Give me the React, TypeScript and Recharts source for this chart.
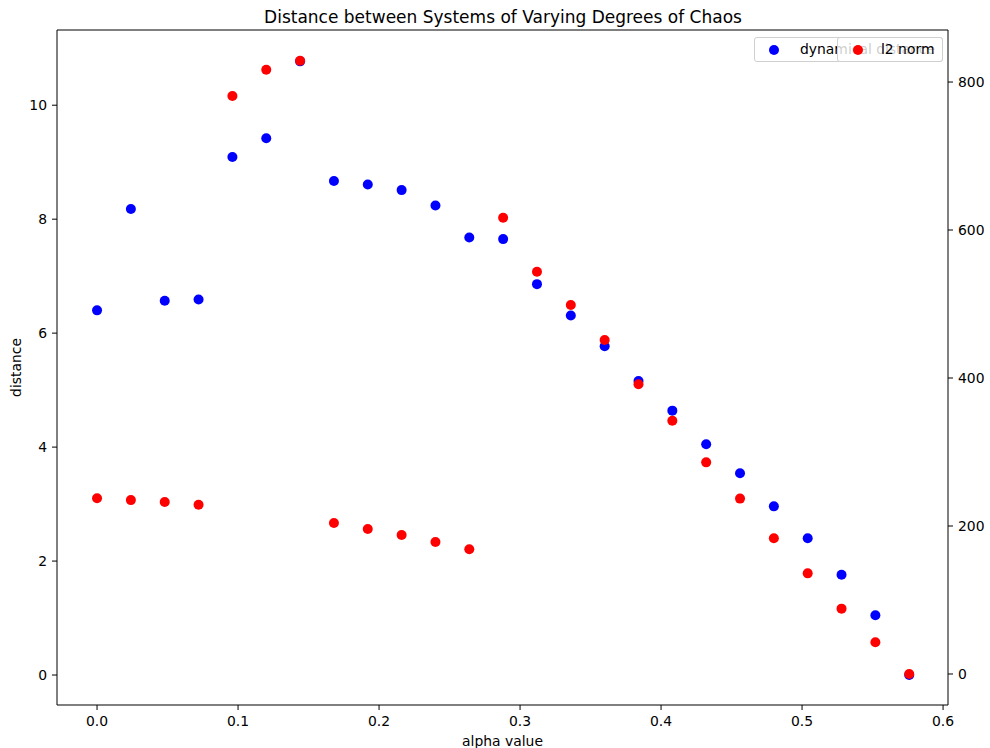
import React from "react";
import {
  ScatterChart,
  Scatter,
  XAxis,
  YAxis,
  Legend,
  ReferenceLine,
} from "recharts";

const alphas = [
  0, 0.024, 0.048, 0.072, 0.096, 0.12, 0.144, 0.168, 0.192, 0.216, 0.24, 0.264,
  0.288, 0.312, 0.336, 0.36, 0.384, 0.408, 0.432, 0.456, 0.48, 0.504, 0.528,
  0.552, 0.576,
];
const dynamicalDistance = [
  6.4, 8.18, 6.57, 6.59, 9.09, 9.42, 10.77, 8.67, 8.61, 8.51, 8.24, 7.68, 7.65,
  6.86, 6.31, 5.77, 5.16, 4.64, 4.05, 3.54, 2.96, 2.4, 1.76, 1.05, 0,
];
const l2Norm = [
  237.4, 235, 232.4, 228.8, 781, 816.6, 828.8, 204, 196, 187.8, 178.4, 168.5,
  616.6, 543.6, 498.6, 451.4, 391.5, 342.3, 286, 237, 183.4, 136, 88.3, 42.8, 0,
];
const xTicks = [0, 0.1, 0.2, 0.3, 0.4, 0.5, 0.6];
const leftTicks = [0, 2, 4, 6, 8, 10];
const rightTicks = [0, 200, 400, 600, 800];

const X_DOMAIN: [number, number] = [-0.0284, 0.6035];
const L_DOMAIN: [number, number] = [-0.526, 11.32];
const R_DOMAIN: [number, number] = [-41.9, 870.3];

const blueData = alphas.map((x, i) => ({ x, y: dynamicalDistance[i] }));
const redData = alphas.map((x, i) => ({ x, y: l2Norm[i] }));

const FONT = "DejaVu Sans, sans-serif";
const tickStyle = { fontSize: 13.9, fill: "#000", fontFamily: FONT };

const dot = (color: string) => (props: any) =>
  <circle cx={props.cx} cy={props.cy} r={5} fill={color} stroke="none" />;

const LegendContent = () => {
  const box: React.CSSProperties = {
    position: "absolute",
    top: 37,
    height: 25,
    background: "rgba(255,255,255,0.8)",
    border: "1px solid #d0d0d0",
    borderRadius: 3,
    fontFamily: FONT,
    fontSize: 13.9,
    color: "#000",
    boxSizing: "border-box",
  };
  const marker = (color: string, left: number): React.CSSProperties => ({
    position: "absolute",
    left,
    top: 7,
    width: 10,
    height: 10,
    borderRadius: "50%",
    background: color,
  });
  const label = (left: number): React.CSSProperties => ({
    position: "absolute",
    left,
    top: 2,
    lineHeight: "18px",
    whiteSpace: "nowrap",
  });
  return (
    <div style={{ position: "relative", width: 0, height: 0 }}>
      <div style={{ ...box, left: 754, width: 189 }}>
        <div style={marker("#0000ff", 14)} />
        <span style={label(45)}>dynamical distance</span>
      </div>
      <div style={{ ...box, left: 837, width: 106 }}>
        <div style={marker("#ff0000", 15)} />
        <span style={label(43)}>l2 norm</span>
      </div>
    </div>
  );
};

export default function App() {
  return (
    <div
      style={{
        position: "absolute",
        left: 0,
        top: 0,
        width: 990,
        height: 748,
        overflow: "hidden",
        background: "#fff",
      }}
    >
      <ScatterChart
        width={990}
        height={748}
        margin={{ top: 30, right: 0, bottom: 0, left: 0 }}
      >
        <text
          x={503}
          y={23}
          textAnchor="middle"
          style={{ fontSize: 17, fontFamily: FONT, fill: "#000" }}
        >
          Distance between Systems of Varying Degrees of Chaos
        </text>
        <XAxis
          type="number"
          dataKey="x"
          domain={X_DOMAIN}
          allowDataOverflow
          ticks={xTicks}
          tickFormatter={(v: number) => v.toFixed(1)}
          height={43}
          tickSize={5}
          tickMargin={6}
          tick={tickStyle}
          stroke="#000"
          axisLine={{ stroke: "#000", strokeWidth: 1 }}
          tickLine={{ stroke: "#000" }}
          label={{
            value: "alpha value",
            position: "insideBottom",
            offset: 2,
            style: { fontSize: 13.9, fontFamily: FONT, fill: "#000" },
          }}
        />
        <YAxis
          yAxisId="left"
          type="number"
          dataKey="y"
          domain={L_DOMAIN}
          allowDataOverflow
          ticks={leftTicks}
          width={57}
          tickSize={5}
          tickMargin={5}
          tick={tickStyle}
          stroke="#000"
          axisLine={{ stroke: "#000", strokeWidth: 1 }}
          tickLine={{ stroke: "#000" }}
          label={{
            value: "distance",
            angle: -90,
            position: "insideLeft",
            offset: 16,
            style: {
              fontSize: 13.9,
              fontFamily: FONT,
              fill: "#000",
              textAnchor: "middle",
            },
          }}
        />
        <YAxis
          yAxisId="right"
          orientation="right"
          type="number"
          dataKey="y"
          domain={R_DOMAIN}
          allowDataOverflow
          ticks={rightTicks}
          width={42}
          tickSize={5}
          tickMargin={5}
          tick={tickStyle}
          stroke="#000"
          axisLine={{ stroke: "#000", strokeWidth: 1 }}
          tickLine={{ stroke: "#000" }}
        />
        <ReferenceLine
          yAxisId="left"
          y={L_DOMAIN[1]}
          stroke="#000"
          strokeWidth={1}
          ifOverflow="visible"
        />
        <Scatter
          name="dynamical distance"
          data={blueData}
          yAxisId="left"
          fill="#0000ff"
          shape={dot("#0000ff")}
          isAnimationActive={false}
        />
        <Scatter
          name="l2 norm"
          data={redData}
          yAxisId="right"
          fill="#ff0000"
          shape={dot("#ff0000")}
          isAnimationActive={false}
        />
        <Legend
          layout="horizontal"
          verticalAlign="middle"
          align="center"
          wrapperStyle={{ left: 0, top: 0, width: 0, height: 0 }}
          content={<LegendContent />}
        />
      </ScatterChart>
    </div>
  );
}
